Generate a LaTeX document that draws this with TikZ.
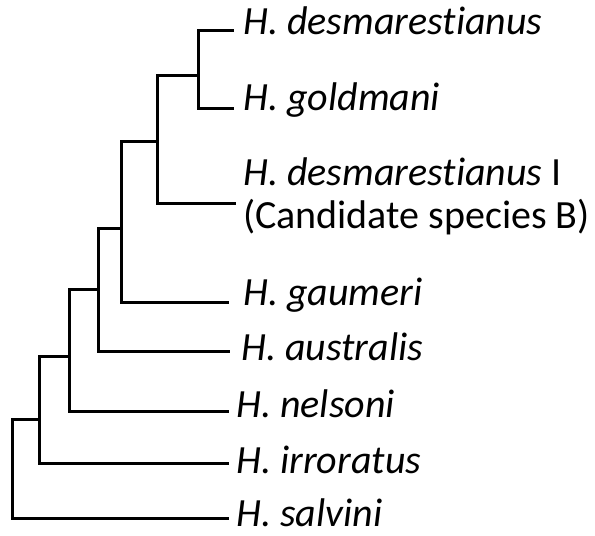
\documentclass[tikz,border=0pt]{standalone}
\usepackage{fontspec}
\setmainfont{Carlito}[Ligatures=NoCommon]
\begin{document}
\begin{tikzpicture}[x=1pt,y=-1pt,
  branch/.style={line width=3pt, line join=miter, line cap=rect},
  lab/.style={anchor=base west, inner sep=0pt, font=\fontsize{40}{43}\selectfont, align=left}]
\useasboundingbox (0,0) rectangle (595,536);
% tips
\coordinate (tdesm) at (232,30);
\coordinate (tgold) at (232,108);
\coordinate (tcand) at (234,203);
\coordinate (tgaum) at (227,302);
\coordinate (taust) at (228,351);
\coordinate (tnel) at (227,411);
\coordinate (tirr) at (227,463);
\coordinate (tsal) at (227,518);
% internal nodes
\coordinate (c1) at (198,75);
\coordinate (c2) at (157,141);
\coordinate (c3) at (121,228);
\coordinate (c4) at (98,289);
\coordinate (c5) at (69,356);
\coordinate (c6) at (39,419);
\coordinate (c7) at (12,419);
% branches
\draw[branch] (tdesm) -| (c1) |- (tgold);
\draw[branch] (c1) -| (c2) |- (tcand);
\draw[branch] (c2) -| (c3) |- (tgaum);
\draw[branch] (c3) -| (c4) |- (taust);
\draw[branch] (c4) -| (c5) |- (tnel);
\draw[branch] (c5) -| (c6) |- (tirr);
\draw[branch] (c6) -- (c7) |- (tsal);
% labels
\node[lab] (Ldesm) at (243,34) {\textit{H. desmarestianus}};
\node[lab] (Lgold) at (243,110) {\textit{H. goldmani}};
\node[lab] (Lcand) at (243,228) {\textit{H. desmarestianus} I\\(Candidate species B)};
\node[lab] (Lgaum) at (243,305) {\textit{H. gaumeri}};
\node[lab] (Laust) at (241,360) {\textit{H. australis}};
\node[lab] (Lnel) at (236,417) {\textit{H. nelsoni}};
\node[lab] (Lirr) at (236,473) {\textit{H. irroratus}};
\node[lab] (Lsal) at (236,526) {\textit{H. salvini}};
\end{tikzpicture}
\end{document}
